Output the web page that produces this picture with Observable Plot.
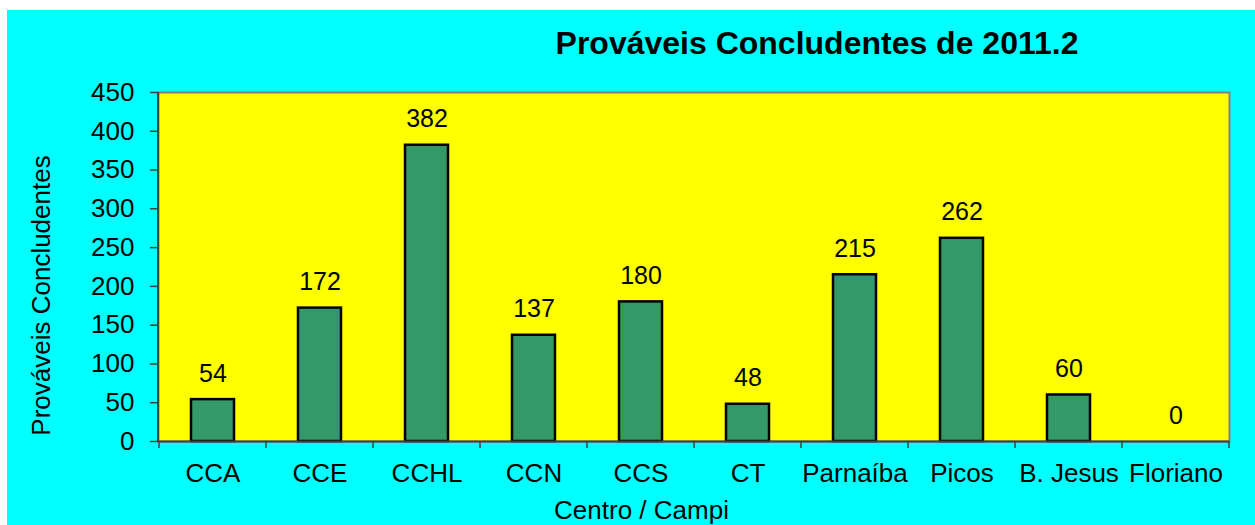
<!DOCTYPE html>
<html><head><meta charset="utf-8">
<script src="https://cdn.jsdelivr.net/npm/d3@7"></script>
<script src="https://cdn.jsdelivr.net/npm/@observablehq/plot@0.6"></script>
<style>
body{margin:0;background:#fff;font-family:"Liberation Sans",Arial,sans-serif;}
#wrap{position:absolute;left:7px;top:10px;width:1248px;height:515px;background:#00FFFF;overflow:hidden}
#title{position:absolute;left:810px;top:17px;transform:translateX(-50%);white-space:nowrap;font-size:32px;line-height:1;font-weight:bold;color:#000}
#chart{position:absolute;left:0;top:60px}
</style>
</head><body>
<div id="wrap"><div id="title"></div><div id="chart"></div></div>
<script>
const title = "Prováveis Concludentes de 2011.2";
const yLabel = "Prováveis Concludentes";
const xLabel = "Centro / Campi";
const categories = ["CCA","CCE","CCHL","CCN","CCS","CT","Parnaíba","Picos","B. Jesus","Floriano"];
const values = [54,172,382,137,180,48,215,262,60,0];
const yTicks = [0,50,100,150,200,250,300,350,400,450];

const data = categories.map((c,i)=>({c, v: values[i]}));
document.getElementById("title").textContent = title;

function boundaryTicks(index, scales, vals, dims) {
  const x = scales.x, y = scales.y;
  const step = x.step ? x.step() : (dims.width - dims.marginLeft - dims.marginRight) / categories.length;
  const bw = x.bandwidth ? x.bandwidth() : step * 0.4;
  const pad = (step - bw) / 2;
  const xs = categories.map(c => x(c) - pad);
  xs.push(x(categories[categories.length-1]) + bw + pad);
  const y0 = y(0);
  const g = d3.create("svg:g").attr("stroke","#404040").attr("stroke-width",1.5);
  g.selectAll("line.t").data(xs).join("line").attr("class","t")
    .attr("x1",d=>d).attr("x2",d=>d).attr("y1",y0).attr("y2",y0+7);
  g.append("line").attr("x1", dims.marginLeft).attr("x2", dims.marginLeft)
    .attr("y1", dims.marginTop).attr("y2", y0).attr("stroke-width",2);
  return g.node();
}

const plot = Plot.plot({
  width: 1248, height: 455,
  marginTop: 22, marginBottom: 84, marginLeft: 151, marginRight: 26,
  style: {background: "transparent", fontFamily: "'Liberation Sans', Arial, sans-serif", fontSize: "26px", color: "#000", overflow: "visible"},
  x: {domain: categories, paddingInner: 0.6, paddingOuter: 0.3, label: null},
  y: {domain: [0,450], label: null},
  marks: [
    Plot.frame({fill: "#FFFF00", stroke: "#808080", strokeWidth: 2}),
    Plot.barY(data, {x: "c", y: "v", fill: "#339966", stroke: "#000", strokeWidth: 2.5}),
    Plot.text(data, {x: "c", y: "v", text: d => String(d.v), lineAnchor: "bottom", dy: -18, fontSize: 25, fill: "#000"}),
    Plot.ruleY([0], {stroke: "#404040", strokeWidth: 2}),
    Plot.axisY({ticks: yTicks, tickSize: 8, tickPadding: 16, fontSize: 26, label: null, stroke: "#404040", strokeWidth: 1.5}),
    Plot.axisX({tickSize: 0, tickPadding: 22, fontSize: 26, label: null}),
    boundaryTicks,
    Plot.text([yLabel], {text: d => d, frameAnchor: "left", textAnchor: "middle", lineAnchor: "middle", rotate: -90, dx: -117, dy: 28.5, fontSize: 26, fill: "#000"}),
    Plot.text([xLabel], {text: d => d, frameAnchor: "bottom", textAnchor: "middle", lineAnchor: "middle", dx: -52.5, dy: 68.7, fontSize: 26, fill: "#000"})
  ]
});
document.getElementById("chart").appendChild(plot);
</script>
</body></html>
